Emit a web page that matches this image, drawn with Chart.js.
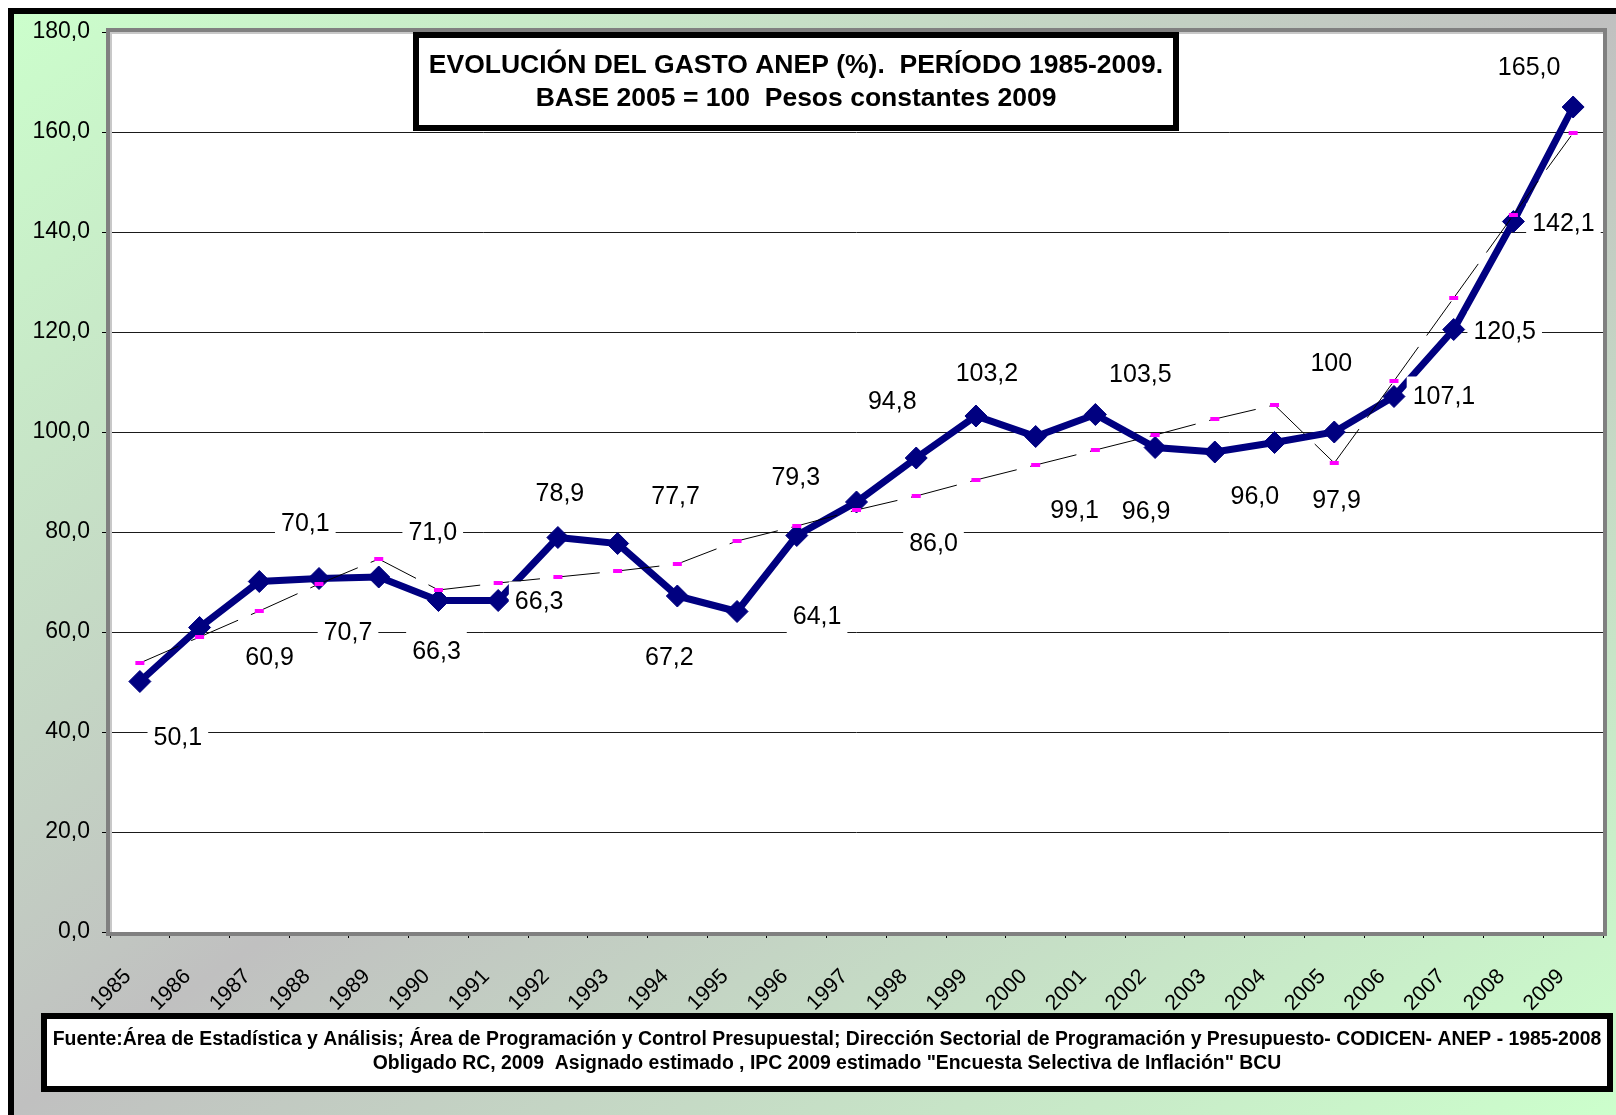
<!DOCTYPE html>
<html>
<head>
<meta charset="utf-8">
<title>Evolución del gasto ANEP 1985-2009</title>
<script src="https://cdn.jsdelivr.net/npm/chart.js@4.4.1/dist/chart.umd.min.js"></script>
<style>
  html, body { margin: 0; padding: 0; background: #ffffff; }
  #wrap { position: relative; width: 1616px; height: 1115px; }
</style>
</head>
<body>
<div id="wrap"><canvas id="gastoChart"></canvas></div>
<script>
// Categories (years)
const years = ["1985", "1986", "1987", "1988", "1989", "1990", "1991", "1992", "1993",
  "1994", "1995", "1996", "1997", "1998", "1999", "2000", "2001", "2002", "2003",
  "2004", "2005", "2006", "2007", "2008", "2009"];

// Gasto ANEP, base 2005 = 100 (navy line)
const gastoIndex = [50.1, 60.9, 70.1, 70.7, 71.0, 66.3, 66.3, 78.9, 77.7, 67.2, 64.1, 79.3,
  86.0, 94.8, 103.2, 99.1, 103.5, 96.9, 96.0, 97.9, 100, 107.1, 120.5, 142.1, 165.0];

// Second series (dashed line, magenta markers)
const trendIndex = [53.8, 59.0, 64.2, 69.6, 74.6, 68.4, 69.8, 71.0, 72.2, 73.6, 78.2, 81.2,
  84.4, 87.2, 90.4, 93.4, 96.4, 99.4, 102.6, 105.4, 93.8, 110.2, 126.8, 143.4, 159.8];

// Data label texts as printed on the chart
const gastoLabels = ["50,1", "60,9", "70,1", "70,7", "71,0", "66,3", "66,3", "78,9", "77,7",
  "67,2", "64,1", "79,3", "86,0", "94,8", "103,2", "99,1", "103,5", "96,9", "96,0", "97,9",
  "100", "107,1", "120,5", "142,1", "165,0"];

// Y axis range
const yMin = 0;
const yMax = 180;
const yStep = 20;

const titleLines = [
  "EVOLUCIÓN DEL GASTO ANEP (%).  PERÍODO 1985-2009.",
  "BASE 2005 = 100  Pesos constantes 2009"
];
const footerLines = [
  "Fuente:Área de Estadística y Análisis; Área de Programación y Control Presupuestal; Dirección Sectorial de Programación y Presupuesto- CODICEN- ANEP - 1985-2008",
  "Obligado RC, 2009  Asignado estimado , IPC 2009 estimado \"Encuesta Selectiva de Inflación\" BCU"
];

// Where each data label sits, as a pixel offset from its point (labels were dragged around in the original)
const labelDx = [38, 70, 46, 29, 54, -2, 41, 2, 58, -8, 80, -1, 77, -24, 11, 39, 45, -9, 40, 62, -3, 50, 51, 50, -44];
const labelDy = [56, 30, -58, 54, -45, 51, 1, -44, -47, 61, 5, -58, 41, -57, -43, 74, -40, 64, 44, 58, -69, 0, 2, 2, -40];

const FONT = "'Liberation Sans', Arial, Helvetica, sans-serif";

function fmt(v) {
  return v.toFixed(1).replace(".", ",");
}

function drawTextBox(ctx, outer, border, lines, font, lineYs) {
  ctx.save();
  ctx.fillStyle = "#ffffff";
  ctx.fillRect(outer.x, outer.y, outer.w, outer.h);
  ctx.strokeStyle = "#000000";
  ctx.lineWidth = border;
  ctx.strokeRect(outer.x + border / 2, outer.y + border / 2, outer.w - border, outer.h - border);
  ctx.fillStyle = "#000000";
  ctx.font = font;
  ctx.textAlign = "center";
  ctx.textBaseline = "middle";
  const cx = outer.x + outer.w / 2;
  lines.forEach((t, i) => ctx.fillText(t, cx, lineYs[i]));
  ctx.restore();
}

// Background gradient, black frame and white plot area
const backdropPlugin = {
  id: "backdrop",
  beforeDraw(chart) {
    const ctx = chart.ctx;
    const W = chart.width, H = chart.height;
    const ox = 8, oy = 8, bw = W - ox, bh = H - oy;
    // same as css "to bottom right": grey along the other diagonal
    const k = 2 * bw * bh / (bw * bw + bh * bh);
    const g = ctx.createLinearGradient(ox, oy, ox + k * bh, oy + k * bw);
    g.addColorStop(0, "#ccffcc");
    g.addColorStop(0.5, "#c0c0c0");
    g.addColorStop(1, "#ccffcc");
    ctx.save();
    ctx.fillStyle = "#ffffff";
    ctx.fillRect(0, 0, W, H);
    ctx.fillStyle = g;
    ctx.fillRect(ox, oy, bw, bh);
    ctx.fillStyle = "#000000";
    ctx.fillRect(ox, oy, 6, bh);
    ctx.fillRect(ox, oy, bw, 6);
    const a = chart.chartArea;
    ctx.fillStyle = "#ffffff";
    ctx.fillRect(a.left, a.top, a.right - a.left, a.bottom - a.top);
    ctx.restore();
  },
  beforeDatasetsDraw(chart) {
    const ctx = chart.ctx;
    const a = chart.chartArea;
    ctx.save();
    ctx.strokeStyle = "#808080";
    ctx.lineWidth = 4;
    ctx.strokeRect(a.left - 2, a.top - 2, a.right - a.left + 4, a.bottom - a.top + 4);
    ctx.strokeStyle = "#c8c8c8";
    ctx.lineWidth = 2;
    ctx.beginPath();
    ctx.moveTo(a.left + 1, a.bottom);
    ctx.lineTo(a.left + 1, a.top + 1);
    ctx.lineTo(a.right, a.top + 1);
    ctx.stroke();
    ctx.restore();
  }
};

// Value labels with white boxes, then the title and source boxes
const labelPlugin = {
  id: "valueLabels",
  afterDatasetsDraw(chart) {
    const ctx = chart.ctx;
    const meta = chart.getDatasetMeta(1);
    ctx.save();
    ctx.font = "25px " + FONT;
    ctx.textAlign = "center";
    ctx.textBaseline = "middle";
    meta.data.forEach((pt, i) => {
      const text = gastoLabels[i];
      const x = pt.x + labelDx[i];
      const y = pt.y + labelDy[i];
      const w = ctx.measureText(text).width + 12;
      ctx.fillStyle = "#ffffff";
      ctx.fillRect(x - w / 2, y - 20, w, 40);
      ctx.fillStyle = "#000000";
      ctx.fillText(text, x, y + 1);
    });
    ctx.restore();
  },
  afterDraw(chart) {
    const ctx = chart.ctx;
    drawTextBox(ctx, { x: 413, y: 32, w: 766, h: 99 }, 6, titleLines, "bold 26.5px " + FONT, [66, 99]);
    drawTextBox(ctx, { x: 41, y: 1013, w: 1572, h: 79 }, 6, footerLines, "bold 19.4px " + FONT, [1040, 1064]);
  }
};

const ctx = document.getElementById("gastoChart").getContext("2d");
new Chart(ctx, {
  type: "line",
  data: {
    labels: years,
    datasets: [
      {
        label: "Tendencia",
        data: trendIndex,
        borderColor: "#000000",
        borderWidth: 1,
        borderDash: [42, 14],
        fill: false,
        tension: 0,
        pointStyle: "line",
        pointRadius: 4.5,
        pointBorderWidth: 4,
        pointBorderColor: "#ff00ff",
        pointBackgroundColor: "#ff00ff",
        // restart the dash at every marker, like the original
        segment: { borderDashOffset: c => (c.p0DataIndex % 2) * 0.001 }
      },
      {
        label: "Gasto ANEP",
        data: gastoIndex,
        borderColor: "#000080",
        borderWidth: 7,
        fill: false,
        tension: 0,
        pointStyle: "rectRot",
        pointRadius: 11,
        pointBorderWidth: 1,
        pointBorderColor: "#000080",
        pointBackgroundColor: "#000080"
      }
    ]
  },
  options: {
    responsive: true,
    maintainAspectRatio: false,
    animation: false,
    layout: { padding: { left: 0, top: 32, right: 13, bottom: 93 } },
    plugins: {
      legend: { display: false },
      tooltip: { enabled: false },
      title: { display: false }
    },
    scales: {
      x: {
        type: "category",
        offset: true,
        border: { display: false },
        grid: {
          display: true,
          offset: true,
          drawOnChartArea: false,
          drawTicks: true,
          tickLength: 6,
          color: "#000000",
          tickColor: "#000000"
        },
        ticks: {
          autoSkip: false,
          minRotation: 45,
          maxRotation: 45,
          padding: 26,
          labelOffset: -12,
          color: "#000000",
          font: { family: FONT, size: 21.5 }
        },
        afterFit(scale) {
          scale.height = 90;
          // keep the plot width fixed, rotated labels must not squeeze it
          scale.paddingLeft = 0;
          scale.paddingRight = 0;
        }
      },
      y: {
        min: yMin,
        max: yMax,
        border: { display: false },
        grid: {
          color: c => (c.tick.value === yMin || c.tick.value === yMax) ? "rgba(0,0,0,0)" : "#1a1a1a",
          tickColor: "#000000",
          tickLength: 8,
          lineWidth: 1
        },
        ticks: {
          stepSize: yStep,
          padding: 12,
          color: "#000000",
          font: { family: FONT, size: 23 },
          callback: v => fmt(v)
        },
        afterFit(scale) { scale.width = 110; }
      }
    }
  },
  plugins: [backdropPlugin, labelPlugin]
});
</script>
</body>
</html>
